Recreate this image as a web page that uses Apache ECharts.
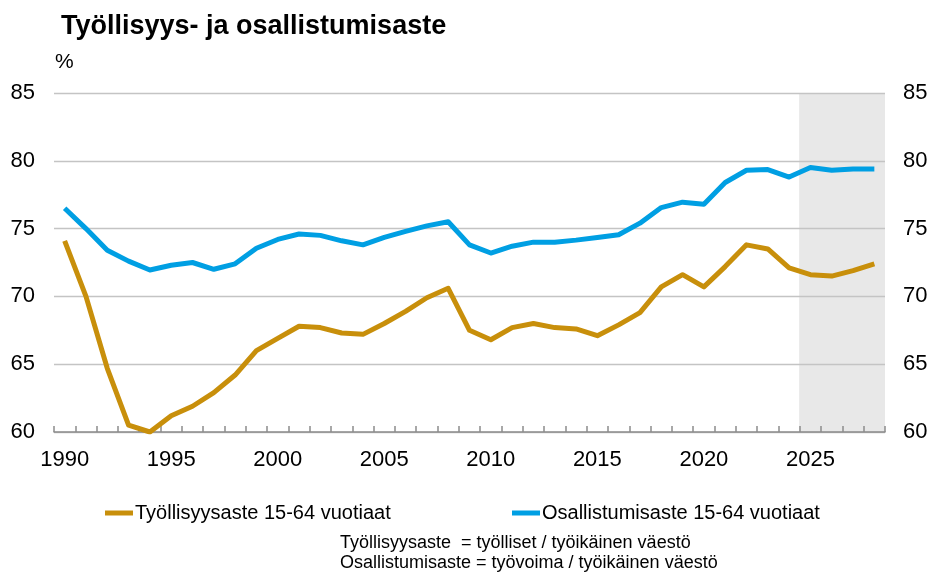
<!DOCTYPE html>
<html lang="fi">
<head>
    <meta charset="UTF-8">
    <title>Työllisyys- ja osallistumisaste</title>
    <script src="https://cdn.jsdelivr.net/npm/echarts@6/dist/echarts.min.js"></script>
    <style>
        html, body { margin: 0; padding: 0; background: #fff; }
    </style>
</head>
<body>
<div id="main" style="width: 934px;height:573px;"></div>
<script type="text/javascript">
    // vuodet (x-akseli)
    var years = ['1990', '1991', '1992', '1993', '1994', '1995', '1996', '1997', '1998', '1999',
        '2000', '2001', '2002', '2003', '2004', '2005', '2006', '2007', '2008', '2009',
        '2010', '2011', '2012', '2013', '2014', '2015', '2016', '2017', '2018', '2019',
        '2020', '2021', '2022', '2023', '2024', '2025', '2026', '2027', '2028'];

    // Työllisyysaste 15-64 vuotiaat, %
    var tyollisyysaste = [74.1, 70.0, 64.7, 60.5, 60.0, 61.2, 61.9, 62.9, 64.2, 66.0,
        66.9, 67.8, 67.7, 67.3, 67.2, 68.0, 68.9, 69.9, 70.6, 67.5,
        66.8, 67.7, 68.0, 67.7, 67.6, 67.1, 67.9, 68.8, 70.7, 71.6,
        70.7, 72.2, 73.8, 73.5, 72.1, 71.6, 71.5, 71.9, 72.4];

    // Osallistumisaste 15-64 vuotiaat, %
    var osallistumisaste = [76.5, 75.0, 73.4, 72.6, 71.95, 72.3, 72.5, 72.0, 72.4, 73.55,
        74.2, 74.6, 74.5, 74.1, 73.8, 74.35, 74.8, 75.2, 75.5, 73.8,
        73.2, 73.7, 74.0, 74.0, 74.15, 74.35, 74.55, 75.4, 76.55, 76.95,
        76.8, 78.4, 79.3, 79.35, 78.8, 79.5, 79.3, 79.4, 79.4];

    // ennustevuodet (harmaa tausta)
    var ennusteVuodet = ['2025', '2026', '2027', '2028'];

    var yTicks = {min: 60, max: 85, interval: 5};

    var txt = '#000000';
    var font = 'Liberation Sans, Arial, sans-serif';

    var myChart = echarts.init(document.getElementById('main'));

    var option = {
        backgroundColor: '#ffffff',
        animation: false,
        textStyle: {fontFamily: font, color: txt},
        title: {
            text: 'Työllisyys- ja osallistumisaste',
            left: 56,
            top: 8,
            textStyle: {fontSize: 27, fontWeight: 'bold', color: txt, fontFamily: font}
        },
        legend: [{
            data: ['Työllisyysaste 15-64 vuotiaat'],
            left: 100,
            top: 498,
            icon: 'rect',
            itemWidth: 28,
            itemHeight: 5,
            itemGap: 0,
            textStyle: {fontSize: 20, color: txt, fontFamily: font, padding: [0, 0, 0, -3]}
        }, {
            data: ['Osallistumisaste 15-64 vuotiaat'],
            left: 507,
            top: 498,
            icon: 'rect',
            itemWidth: 28,
            itemHeight: 5,
            itemGap: 0,
            textStyle: {fontSize: 20, color: txt, fontFamily: font, padding: [0, 0, 0, -3]}
        }],
        graphic: [{
            type: 'text',
            left: 55,
            top: 52,
            style: {text: '%', font: '21px ' + font, fill: txt}
        }, {
            type: 'text',
            left: 340,
            top: 533,
            style: {
                text: 'Työllisyysaste  = työlliset / työikäinen väestö\nOsallistumisaste = työvoima / työikäinen väestö',
                font: '18px ' + font,
                lineHeight: 20,
                fill: txt
            }
        }],
        grid: {
            left: 54,
            right: 49,
            top: 93,
            bottom: 141,
            outerBoundsMode: 'none'
        },
        xAxis: {
            type: 'category',
            data: years,
            boundaryGap: true,
            axisLine: {show: true, onZero: false, lineStyle: {color: '#8c8c8c', width: 1.5}},
            axisTick: {show: true, inside: true, length: 6, interval: 0, lineStyle: {color: '#8c8c8c', width: 1.5}},
            axisLabel: {interval: 4, fontSize: 22, color: txt, margin: 17, fontFamily: font},
            splitLine: {show: false}
        },
        yAxis: [{
            type: 'value',
            min: yTicks.min,
            max: yTicks.max,
            interval: yTicks.interval,
            position: 'left',
            axisLine: {show: false},
            axisTick: {show: false},
            axisLabel: {fontSize: 22, color: txt, margin: 19, fontFamily: font},
            splitLine: {show: true, lineStyle: {color: '#c4c4c4', width: 1.3}}
        }, {
            type: 'value',
            min: yTicks.min,
            max: yTicks.max,
            interval: yTicks.interval,
            position: 'right',
            axisLine: {show: false},
            axisTick: {show: false},
            axisLabel: {fontSize: 22, color: txt, margin: 18, fontFamily: font},
            splitLine: {show: false}
        }],
        series: [{
            name: 'ennuste',
            type: 'bar',
            silent: true,
            yAxisIndex: 0,
            barWidth: '106%',
            barCategoryGap: '0%',
            clip: true,
            itemStyle: {color: '#e8e8e8'},
            z: -1,
            data: years.map(function (y) {
                return ennusteVuodet.indexOf(y) >= 0 ? yTicks.max : null;
            })
        }, {
            name: 'Työllisyysaste 15-64 vuotiaat',
            type: 'line',
            yAxisIndex: 0,
            symbol: 'none',
            z: 3,
            color: '#c88f0b',
            lineStyle: {width: 5, color: '#c88f0b', join: 'round'},
            data: tyollisyysaste
        }, {
            name: 'Osallistumisaste 15-64 vuotiaat',
            type: 'line',
            yAxisIndex: 0,
            symbol: 'none',
            z: 3,
            color: '#009fe3',
            lineStyle: {width: 5, color: '#009fe3', join: 'round'},
            data: osallistumisaste
        }]
    };

    myChart.setOption(option);
</script>
</body>
</html>
